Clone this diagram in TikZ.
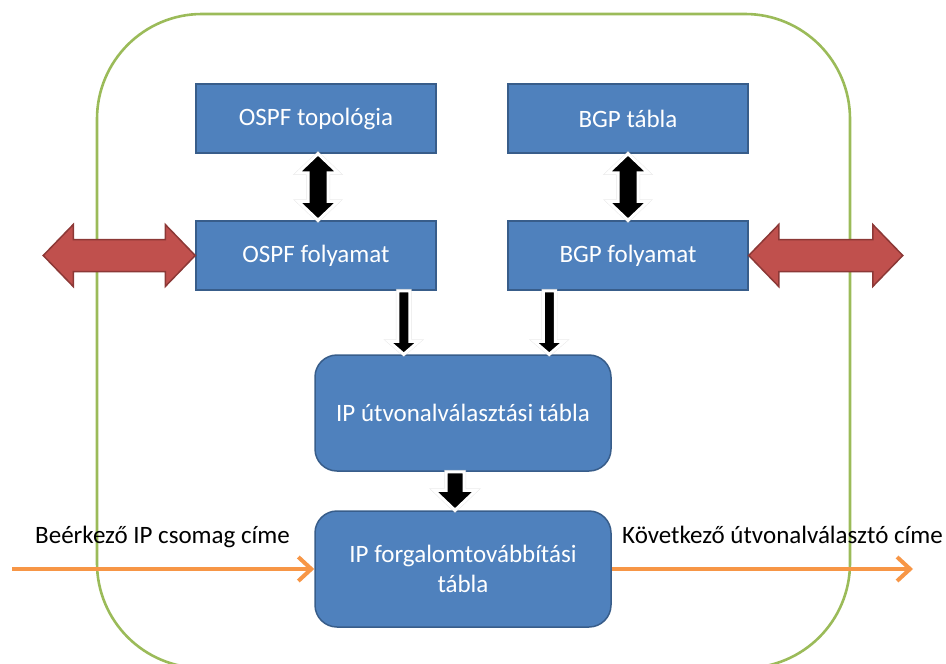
\documentclass[tikz,border=0pt]{standalone}
\usepackage{fontspec}
\setmainfont{Carlito}
\usetikzlibrary{calc,arrows.meta}

\definecolor{boxfill}{HTML}{4F81BD}
\definecolor{boxline}{HTML}{385D8A}
\definecolor{redfill}{HTML}{C0504D}
\definecolor{redline}{HTML}{8C3836}
\definecolor{frameline}{HTML}{9BBB59}
\definecolor{flowline}{HTML}{F79646}

% horizontal double block arrow: style, left tip, right tip, shaft half, head half, head length
\newcommand{\hdblarrow}[6]{%
  \draw[#1] (#2) -- ++(#6,-#5) -- ++(0,#5-#4) -- ($(#3)+(-#6,-#4)$) -- ++(0,-#5+#4)
    -- (#3) -- ++(-#6,#5) -- ++(0,-#5+#4) -- ($(#2)+(#6,#4)$) -- ++(0,#5-#4) -- cycle;}
% vertical double block arrow: style, top tip, bottom tip, shaft half, head half, head length
\newcommand{\vdblarrow}[6]{%
  \draw[#1] (#2) -- ++(#5,#6) -- ++(-#5+#4,0) -- ($(#3)+(#4,-#6)$) -- ++(#5-#4,0)
    -- (#3) -- ++(-#5,-#6) -- ++(#5-#4,0) -- ($(#2)+(-#4,#6)$) -- ++(-#5+#4,0) -- cycle;}
% downward block arrow: style, tail, tip, shaft half, head half, head length
\newcommand{\dnarrow}[6]{%
  \draw[#1] ($(#2)+(-#4,0)$) -- ($(#3)+(-#4,-#6)$) -- ++(-#5+#4,0) -- (#3)
    -- ++(#5,-#6) -- ++(-#5+#4,0) -- ($(#2)+(#4,0)$) -- cycle;}

\tikzset{
  block/.style={draw=boxline, line width=1.5pt, fill=boxfill, text=white,
    minimum width=240pt, minimum height=69pt, inner sep=0pt, align=center,
    font=\fontsize{25}{30}\selectfont},
  tablebox/.style={block, rounded corners=22pt, minimum width=296pt, minimum height=116pt},
  redarrow/.style={fill=redfill, draw=redline, line width=1.5pt, line join=miter},
  blkshadow/.style={fill=black!30, draw=black!20, line width=4pt, opacity=0.45, shift={(1.5pt,-2pt)}},
  blkarrow/.style={fill=black, draw=white, line width=3pt},
  frame/.style={draw=frameline, line width=2.6pt, rounded corners=105pt},
  flow/.style={draw=flowline, line width=4pt,
    -{Straight Barb[length=13pt,width=24pt,line width=4pt]}},
  flowlabel/.style={anchor=base west, inner sep=0pt, text=black,
    font=\fontsize{25}{30}\selectfont}
}

\begin{document}
\begin{tikzpicture}[x=1pt,y=-1pt]
\useasboundingbox (0,0) rectangle (946,664);

% router frame
\draw[frame] (97,14) rectangle (850,668);

% process and table blocks
\node[block] (ot) at (316,118.5) {OSPF topológia};
\node[block] (bt) at (628,118.5) {BGP tábla};
\node[block] (of) at (316,255.5) {OSPF folyamat};
\node[block] (bf) at (628,255.5) {BGP folyamat};
\node[tablebox] (ipu) at (463,413) {IP útvonalválasztási tábla};
\node[tablebox] (ipf) at (463,569) {IP forgalomtovábbítási\\tábla};

% protocol exchange with neighbours
\coordinate (nbL) at ($(of.west)+(-152,0)$);
\coordinate (nbR) at ($(bf.east)+(154,0)$);
\hdblarrow{redarrow}{nbL}{of.west}{16}{31}{30}
\hdblarrow{redarrow}{bf.east}{nbR}{16}{31}{30}

% process <-> database
\coordinate (otS) at ($(ot.south)+(2,0)$);
\coordinate (ofN) at ($(of.north)+(2,0)$);
\vdblarrow{blkshadow}{otS}{ofN}{10}{20}{19}
\vdblarrow{blkarrow}{otS}{ofN}{10}{20}{19}
\vdblarrow{blkshadow}{bt.south}{bf.north}{10}{20}{19}
\vdblarrow{blkarrow}{bt.south}{bf.north}{10}{20}{19}

% routes into the routing table
\coordinate (ofT) at ($(of.south east)+(-33,0)$);
\coordinate (bfT) at ($(bf.south west)+(42,0)$);
\coordinate (ipuA) at (ofT |- ipu.north);
\coordinate (ipuB) at (bfT |- ipu.north);
\dnarrow{blkshadow}{ofT}{ipuA}{6}{15}{13}
\dnarrow{blkarrow}{ofT}{ipuA}{6}{15}{13}
\dnarrow{blkshadow}{bfT}{ipuB}{6}{15}{13}
\dnarrow{blkarrow}{bfT}{ipuB}{6}{15}{13}

% routing table -> forwarding table
\coordinate (ipuS) at ($(ipu.south)+(-8,0)$);
\coordinate (ipfN) at (ipuS |- ipf.north);
\dnarrow{blkshadow}{ipuS}{ipfN}{9}{21}{20}
\dnarrow{blkarrow}{ipuS}{ipfN}{9}{21}{20}

% packet lookup
\coordinate (inA) at (12,569);
\coordinate (outA) at (913,569);
\draw[flow] (inA) -- (ipf.west);
\draw[flow] (ipf.east) -- (outA);
\node[flowlabel] (inL) at (35,543) {Beérkező IP csomag címe};
\node[flowlabel] (outL) at (622,543) {Következő útvonalválasztó címe};
\end{tikzpicture}
\end{document}
